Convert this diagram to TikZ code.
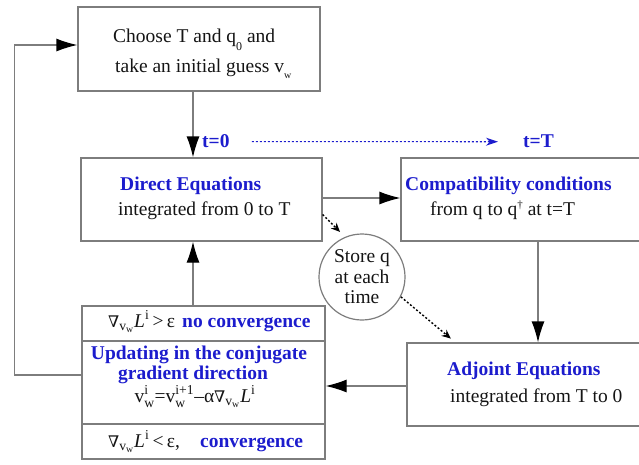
\documentclass[tikz,border=0pt]{standalone}
\usepackage{fontspec}
\usepackage{amsmath}
\setmainfont{Liberation Serif}
\newfontfamily\symf{DejaVu Serif}
\usetikzlibrary{arrows.meta}
\definecolor{bl}{RGB}{28,28,205}
\definecolor{ln}{RGB}{125,125,125}
\definecolor{tx}{RGB}{20,20,20}
\newcommand{\nab}{{\symf\fontsize{16}{16}\selectfont ∇}}
\newcommand{\gradL}{\nab${}_{\text{v}_{\text{w}}}$\textit{L}${}^{\text{i}}$}
\newcommand{\smsup}[1]{\raisebox{7pt}{\fontsize{11}{11}\selectfont #1}}
\newcommand{\smsub}[1]{\raisebox{-6pt}{\fontsize{10}{10}\selectfont #1}}
\begin{document}
\begin{tikzpicture}[x=1pt,y=-1pt,
  every node/.style={font=\fontsize{19.5}{24}\selectfont,text=tx},
  box/.style={draw=ln,line width=1.2pt,rectangle,inner sep=0pt},
  lbl/.style={anchor=base west,inner sep=0pt},
  clbl/.style={anchor=base,inner sep=0pt},
  hd/.style={text=bl,font=\fontsize{19.5}{24}\selectfont\bfseries},
  arr/.style={draw=ln,line width=1.2pt,-{Latex[length=21pt,width=13pt,color=black]}},
  dotarr/.style={draw=black,line width=1.4pt,dash pattern=on 2pt off 2pt,-{Stealth[length=9pt,width=8pt]}},
  bluearr/.style={draw=bl,line width=1.1pt,dash pattern=on 2pt off 2pt,-{Stealth[length=12pt,width=8pt,color=bl]}}]
\useasboundingbox (0,0) rectangle (639,464);
% boxes
\node[box,minimum width=242pt,minimum height=84pt] (top) at (199,49) {};
\node[box,minimum width=241pt,minimum height=83pt] (direct) at (201.5,199.5) {};
\node[box,minimum width=244pt,minimum height=83pt] (compat) at (523,199.5) {};
\node[box,minimum width=238pt,minimum height=83pt] (adjoint) at (526,384.5) {};
\node[box,minimum width=243pt,minimum height=153pt] (update) at (203.5,382.5) {};
\coordinate (d1) at (0,341);
\coordinate (d2) at (0,424);
\draw[draw=ln,line width=1.2pt] (update.west |- d1) -- (update.east |- d1);
\draw[draw=ln,line width=1.2pt] (update.west |- d2) -- (update.east |- d2);
\node[circle,draw=ln,line width=1.2pt,minimum size=86pt,inner sep=0pt,align=center,
  font=\fontsize{19.5}{20.5}\selectfont] (store) at (362,277) {Store q\\at each\\time};
% texts
\node[lbl] (t1) at (113,42) {Choose T and q\raisebox{-8pt}{\fontsize{12}{12}\selectfont 0} and};
\node[lbl] (t2) at (115,72) {take an initial guess v\smsub{w}};
\node[lbl,hd] (t0) at (202,147) {t=0};
\node[lbl,hd] (tT) at (523,147) {t=T};
\node[lbl,hd] (dh) at (120,190) {Direct Equations};
\node[lbl] (dl) at (118,215) {integrated from 0 to T};
\node[lbl,hd] (ch) at (405,190) {Compatibility conditions};
\node[lbl] (cl) at (430,215) {from q to q\smsup{†} at t=T};
\node[lbl,hd] (ah) at (447,375) {Adjoint Equations};
\node[lbl] (al) at (450,402) {integrated from T to 0};
\node[lbl] (u1) at (108,327) {\gradL\,>\,ε};
\node[lbl,hd] (u1b) at (182,327) {no convergence};
\node[clbl,hd] (u2) at (199,359) {Updating in the conjugate};
\node[clbl,hd] (u3) at (193,379) {gradient direction};
\node[clbl] (u4) at (195,402) {v${}^{\text{i}}_{\text{w}}$=v${}^{\text{i+1}}_{\text{w}}$–α\gradL};
\node[lbl] (u5) at (108,447) {\gradL\,<\,ε,};
\node[lbl,hd] (u5b) at (200,447) {convergence};
% connectors
\draw[arr] ([xshift=-6pt]top.south) -- ([xshift=-8.5pt]direct.north);
\draw[arr] ([yshift=1.5pt]direct.east) -- ([yshift=1.5pt]compat.west);
\draw[arr] ([xshift=15pt]compat.south) -- ([xshift=12pt]adjoint.north);
\draw[arr] ([yshift=-1.5pt]adjoint.west) -- ([yshift=-1.5pt]adjoint.west -| update.east);
\draw[arr] ([xshift=-10.5pt]update.north) -- ([xshift=-8.5pt]direct.south);
\draw[arr] ([yshift=7.5pt]update.west) -- ++(-67,0) |- ([yshift=4pt]top.west);
\draw[dotarr,shorten >=7pt] ([yshift=-15pt]direct.east) -- (store.113);
\draw[dotarr,shorten >=6pt] (store.-27) -- ([xshift=49pt]adjoint.north west);
\draw[bluearr] ([xshift=22pt,yshift=-1pt]t0.east) -- ([xshift=-25pt,yshift=-1pt]tT.west);
\end{tikzpicture}
\end{document}
